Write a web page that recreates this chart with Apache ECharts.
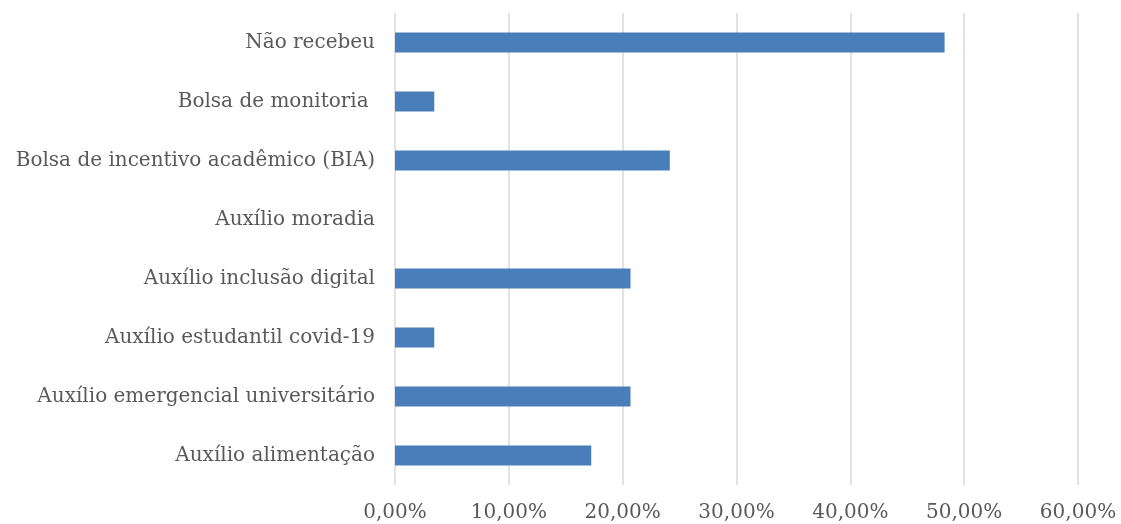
<!DOCTYPE html>
<html>
<head>
<meta charset="utf-8">
<script src="https://cdn.jsdelivr.net/npm/echarts@6/dist/echarts.min.js"></script>
<style>html,body{margin:0;padding:0;background:#fff;}#c{width:1121px;height:524px;}</style>
</head>
<body>
<div id="c"></div>
<script>
const categories = [
  "Não recebeu",
  "Bolsa de monitoria ",
  "Bolsa de incentivo acadêmico (BIA)",
  "Auxílio moradia",
  "Auxílio inclusão digital",
  "Auxílio estudantil covid-19",
  "Auxílio emergencial universitário",
  "Auxílio alimentação"
];
const values = [48.28, 3.45, 24.14, 0, 20.69, 3.45, 20.69, 17.24];
const xTicks = [0, 10, 20, 30, 40, 50, 60];

const chart = echarts.init(document.getElementById('c'), null, {renderer: 'canvas'});
chart.setOption({
  animation: false,
  backgroundColor: '#ffffff',
  grid: {left: 395, right: 43, top: 13, bottom: 39, containLabel: false},
  xAxis: {
    type: 'value',
    min: xTicks[0],
    max: xTicks[xTicks.length - 1],
    interval: 10,
    axisLine: {show: false},
    axisTick: {show: false},
    splitLine: {show: true, lineStyle: {color: '#d9d9d9', width: 1.5}},
    axisLabel: {
      margin: 18,
      color: '#595959',
      fontFamily: 'DejaVu Serif',
      fontSize: 20,
      formatter: v => v.toFixed(2).replace('.', ',') + '%'
    }
  },
  yAxis: {
    type: 'category',
    data: categories,
    inverse: true,
    axisLine: {show: false},
    axisTick: {show: false},
    axisLabel: {
      margin: 20,
      color: '#595959',
      fontFamily: 'DejaVu Serif',
      fontSize: 20
    }
  },
  series: [{
    type: 'bar',
    data: values,
    barWidth: 20,
    itemStyle: {color: '#4a7ebb', borderWidth: 0}
  }]
});
</script>
</body>
</html>
